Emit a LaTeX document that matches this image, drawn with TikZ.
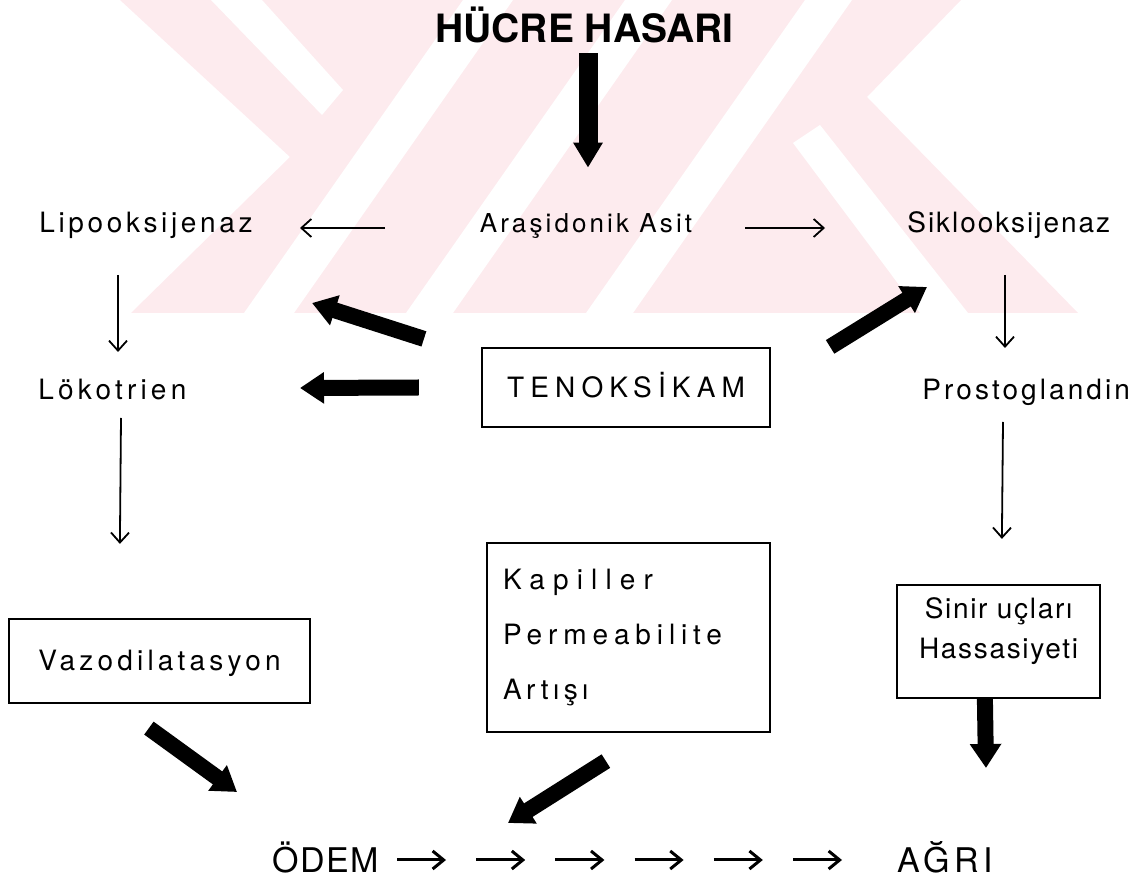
\documentclass[tikz,border=0pt]{standalone}
\usepackage{fontspec}
\setmainfont{TeX Gyre Heros}
\usetikzlibrary{arrows.meta}
\definecolor{wmpink}{RGB}{253,235,238}
\newcommand\spaced[1]{\addfontfeatures{LetterSpace=#1}}
\tikzset{
    lbl/.style={inner sep=0pt, text height=8pt, text depth=3pt,
        font=\fontsize{14pt}{17pt}\selectfont\spaced{#1}},
    lbl/.default=10,
    big/.style={inner sep=0pt, text height=12pt, text depth=0pt,
        font=\fontsize{17pt}{20pt}\selectfont\spaced{#1}},
    box/.style={draw, line width=1.1pt, inner sep=0pt},
    slim/.style={line width=0.9pt, -{Straight Barb[length=5pt,width=9pt]}},
    mid/.style={line width=1.5pt, -{Straight Barb[length=5.5pt,width=9pt]}},
    fat/.style={line width=8pt, -{Triangle[length=12pt,width=15pt]}},
    fattop/.style={line width=9.5pt, -{Triangle[length=12.5pt,width=14pt]}}
}
\begin{document}
\begin{tikzpicture}[x=0.5pt, y=-0.5pt]
\useasboundingbox (0,0) rectangle (1136,892);

% watermark
\begin{scope}
    \clip (120,0) -- (961,0) -- (867,97) -- (1078,313) -- (131,313) -- (290,157) -- cycle;
    \fill[wmpink] (0,0) rectangle (1136,313);
    \fill[white] (211,0) -- (262,0) -- (343,90) -- (322,115) -- cycle;
    \fill[white] (463,0) -- (513,0) -- (294,313) -- (244,313) -- cycle;
    \fill[white] (625,0) -- (672,0) -- (453,313) -- (406,313) -- cycle;
    \fill[white] (805,0) -- (852,0) -- (633,313) -- (586,313) -- cycle;
    \fill[white] (793,143) -- (820,125) -- (968,313) -- (920,313) -- cycle;
\end{scope}

\node[inner sep=0pt, text height=14pt, text depth=0pt,
    font=\fontsize{19.5pt}{22pt}\selectfont\bfseries] (h) at (584.5,29) {HÜCRE HASARI};
\node[lbl, font=\fontsize{13pt}{16pt}\selectfont\spaced{12}] (a) at (586,228) {Araşidonik Asit};
\node[lbl=13, anchor=west] (l) at (39,228) {Lipooksijenaz};
\node[lbl=7, anchor=west] (s) at (907,228) {Siklooksijenaz};
\node[lbl=15, anchor=west] (k) at (38,395) {Lökotrien};
\node[lbl=11, anchor=west] (p) at (922,395) {Prostoglandin};
\node[box, minimum width=144pt, minimum height=39.5pt, text height=10pt, text depth=0pt,
    font=\fontsize{14pt}{17pt}\selectfont\spaced{22}] (t) at (626,387.5) {TENOKSİKAM};
\node[box, minimum width=150.5pt, minimum height=42pt, text height=10pt, text depth=0pt,
    font=\fontsize{14pt}{17pt}\selectfont\spaced{15}] (v) at (159.5,661) {Vazodilatasyon};
\node[box, inner xsep=8pt, text width=125.5pt, minimum height=94.5pt, align=left,
    font=\fontsize{14pt}{27.5pt}\selectfont] (c) at (628.5,637.5)
    {{\spaced{29}Kapiller}\\{\spaced{21}Permeabilite}\\{\spaced{16}Artışı}};
\node[box, minimum width=101.5pt, minimum height=56.5pt] (n) at (998.5,641.5) {};
\node[inner sep=0pt, anchor=north, align=center,
    font=\fontsize{14pt}{20pt}\selectfont\spaced{6}] (nt) at (998.5,597) {Sinir uçları\\Hassasiyeti};
\node[big=4, anchor=west] (o) at (272,860) {ÖDEM};
\node[big=13, anchor=west] (g) at (897,860) {AĞRI};

\draw[slim]
    ([xshift=-100.5pt]a.center) -- ([xshift=130.5pt]l.west);
\draw[slim]
    ([xshift=79.5pt]a.center) -- ([xshift=-41pt]s.west);
\draw[slim]
    ([xshift=39.5pt,yshift=-23.5pt]l.west) -- ([xshift=40pt,yshift=21.5pt]k.west);
\draw[slim]
    ([xshift=49pt,yshift=-23.5pt]s.west) -- ([xshift=41.5pt,yshift=23.5pt]p.west);
\draw[slim]
    ([xshift=41.5pt,yshift=-11.5pt]k.west) -- ([xshift=56pt,yshift=37pt]v.north west);
\draw[slim]
    ([xshift=40.5pt,yshift=-13.5pt]p.west) -- ([xshift=53pt,yshift=22.5pt]n.north west);

\draw[fattop] ([xshift=1.75pt,yshift=-5pt]h.south) -- ([xshift=1pt,yshift=24.5pt]a.north);
\draw[fat] ([xshift=-28.5pt,yshift=4pt]t.north west) -- ([xshift=136.5pt,yshift=-37.5pt]l.west);
\draw[fat] ([xshift=-31pt]t.west) -- ([xshift=131pt,yshift=3.5pt]k.west);
\draw[fat] ([xshift=29.5pt]t.north east) -- ([xshift=10pt,yshift=-29.5pt]s.west);
\draw[fat] ([xshift=70.5pt,yshift=-12pt]v.south west) -- ([xshift=-17.5pt,yshift=34pt]o.west);
\draw[fat] ([xshift=60pt,yshift=-14pt]c.south west) -- ([xshift=118pt,yshift=18.5pt]o.west);
\draw[fat] ([xshift=44.5pt]n.south west) -- ([xshift=44.5pt,yshift=46pt]g.west);

\foreach \i in {0,...,5}
    \draw[mid] ([xshift={(62.5+39.6*\i)*1pt}]o.west) -- ([xshift={(87+39.6*\i)*1pt}]o.west);
\end{tikzpicture}
\end{document}
